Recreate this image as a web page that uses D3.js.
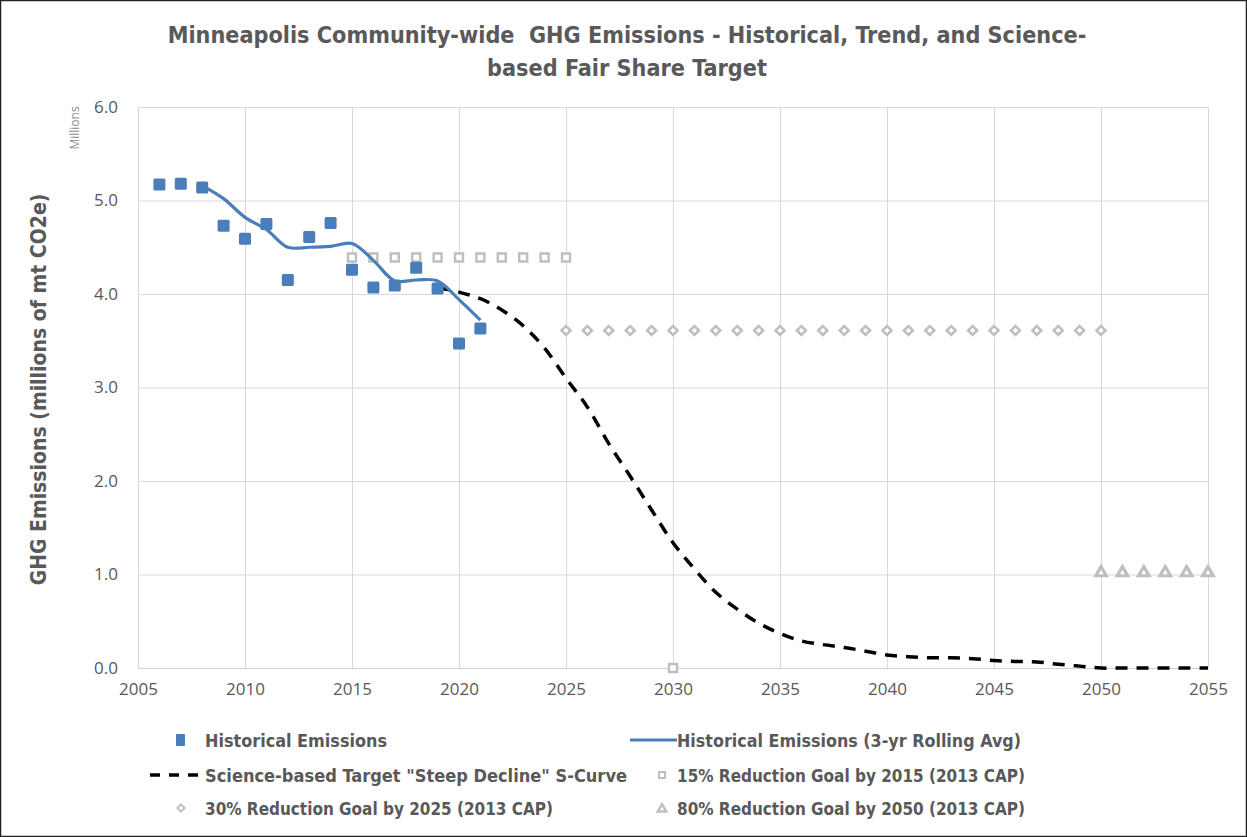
<!DOCTYPE html>
<html><head><meta charset="utf-8">
<script src="https://cdn.jsdelivr.net/npm/d3@7"></script>
<style>
html,body{margin:0;padding:0;background:#fff;}
text{font-family:"Liberation Sans Narrow","Arial Narrow","DejaVu Sans Condensed",sans-serif;}
</style></head>
<body>
<svg id="chart" width="1247" height="837"></svg>
<script>
// ---- data ----
const histYears = [2006,2007,2008,2009,2010,2011,2012,2013,2014,2015,2016,2017,2018,2019,2020,2021];
const histValues = [5.17,5.18,5.14,4.73,4.59,4.75,4.15,4.61,4.76,4.26,4.07,4.09,4.28,4.06,3.47,3.63];
const avgYears = [2008,2009,2010,2011,2012,2013,2014,2015,2016,2017,2018,2019,2020,2021];
const avgValues = [5.16,5.02,4.82,4.69,4.50,4.50,4.51,4.54,4.36,4.14,4.15,4.14,3.94,3.72];
const sYears = [2019,2020,2021,2022,2023,2024,2025,2026,2027,2028,2029,2030,2031,2032,2033,2034,2035,2036,2037,2038,2039,2040,2041,2042,2043,2044,2045,2046,2047,2048,2049,2050,2051,2052,2053,2054,2055];
const sValues = [4.07,4.02,3.95,3.83,3.66,3.42,3.10,2.79,2.40,2.05,1.69,1.34,1.06,0.81,0.63,0.48,0.37,0.29,0.25,0.22,0.18,0.14,0.12,0.11,0.11,0.10,0.08,0.07,0.065,0.04,0.02,0.0,0.0,0.0,0.0,0.0,0.0];
const goal15Years = [2015,2016,2017,2018,2019,2020,2021,2022,2023,2024,2025,2030];
const goal15Values = [4.39,4.39,4.39,4.39,4.39,4.39,4.39,4.39,4.39,4.39,4.39,0.0];
const goal30Years = [2025,2026,2027,2028,2029,2030,2031,2032,2033,2034,2035,2036,2037,2038,2039,2040,2041,2042,2043,2044,2045,2046,2047,2048,2049,2050];
const goal30Values = [3.61,3.61,3.61,3.61,3.61,3.61,3.61,3.61,3.61,3.61,3.61,3.61,3.61,3.61,3.61,3.61,3.61,3.61,3.61,3.61,3.61,3.61,3.61,3.61,3.61,3.61];
const goal80Years = [2050,2051,2052,2053,2054,2055];
const goal80Values = [1.03,1.03,1.03,1.03,1.03,1.03];
const xTicks = [2005,2010,2015,2020,2025,2030,2035,2040,2045,2050,2055];
const yTicks = [0,1,2,3,4,5,6];
const titleLines = ["Minneapolis Community-wide  GHG Emissions - Historical, Trend, and Science-","based Fair Share Target"];
const yTitle = "GHG Emissions (millions of mt CO2e)";
const legendLabels = ["Historical Emissions","Historical Emissions (3-yr Rolling Avg)","Science-based Target \"Steep Decline\" S-Curve","15% Reduction Goal by 2015 (2013 CAP)","30% Reduction Goal by 2025 (2013 CAP)","80% Reduction Goal by 2050 (2013 CAP)"];

// ---- layout ----
const W = 1247, H = 837;
const m = {left:138, right:1208, top:107, bottom:668};
const svg = d3.select("#chart");
const textColor = "#595959";
const blue = "#4a7ebb";
const gray = "#bfbfbf";

svg.append("rect").attr("x",0.5).attr("y",0.5).attr("width",W-1).attr("height",H-1)
  .attr("fill","#fff").attr("stroke","#222").attr("stroke-width",1.5);

const x = d3.scaleLinear().domain([2005,2055]).range([m.left,m.right]);
const y = d3.scaleLinear().domain([0,6]).range([m.bottom,m.top]);

// gridlines
const g = svg.append("g");
g.selectAll(".hg").data(yTicks).join("line")
  .attr("x1",m.left).attr("x2",m.right).attr("y1",d=>y(d)+0.5).attr("y2",d=>y(d)+0.5)
  .attr("stroke","#d9d9d9").attr("stroke-width",1);
g.selectAll(".vg").data(xTicks).join("line")
  .attr("x1",d=>x(d)+0.5).attr("x2",d=>x(d)+0.5).attr("y1",m.top).attr("y2",m.bottom)
  .attr("stroke","#d9d9d9").attr("stroke-width",1);

// axes labels
const xAxis = d3.axisBottom(x).tickValues(xTicks).tickFormat(d3.format("d")).tickSize(0).tickPadding(15);
const xg = svg.append("g").attr("transform",`translate(0,${m.bottom})`).call(xAxis);
xg.select(".domain").attr("stroke","#d0d0d0");
xg.selectAll("text").attr("fill",textColor).style("font-family","'Open Sans',sans-serif").attr("font-size",17);

const yAxis = d3.axisLeft(y).tickValues(yTicks).tickFormat(d3.format(".1f")).tickSize(0).tickPadding(20);
const yg = svg.append("g").attr("transform",`translate(${m.left},0)`).call(yAxis);
yg.select(".domain").remove();
yg.selectAll("text").attr("fill",textColor).style("font-family","'Open Sans',sans-serif").attr("font-size",17);

// Millions
svg.append("text").attr("transform","translate(79,128) rotate(-90)")
  .attr("text-anchor","middle").attr("fill","#8c8c8c").attr("font-size",12)
  .style("font-family","'Open Sans',sans-serif").text("Millions");

// y title
svg.append("text").attr("transform",`translate(46,${(m.top+m.bottom)/2+2}) rotate(-90)`)
  .attr("text-anchor","middle").attr("fill",textColor).attr("font-size",21).attr("font-weight","bold")
  .text(yTitle);

// title
svg.selectAll(".title").data(titleLines).join("text")
  .attr("x",627).attr("y",(d,i)=>43+i*33).attr("text-anchor","middle").style("white-space","pre")
  .attr("fill",textColor).attr("font-size",23.2).attr("font-weight","bold").text(d=>d);

// series
const avgData = avgYears.map((v,i)=>[v,avgValues[i]]);
const sData = sYears.map((v,i)=>[v,sValues[i]]);

// goal markers
const sq = d3.symbol().type(d3.symbolSquare).size(64);
const tri = d3.symbol().type(d3.symbolTriangle).size(48);

svg.append("g").selectAll("path").data(goal15Years.map((v,i)=>[v,goal15Values[i]])).join("path")
  .attr("transform",d=>`translate(${x(d[0])},${y(d[1])})`).attr("d",sq)
  .attr("fill","#fff").attr("stroke",gray).attr("stroke-width",2.4);
svg.append("g").selectAll("path").data(goal30Years.map((v,i)=>[v,goal30Values[i]])).join("path")
  .attr("transform",d=>`translate(${x(d[0])},${y(d[1])}) rotate(45)`).attr("d",d3.symbol().type(d3.symbolSquare).size(40))
  .attr("fill","#fff").attr("stroke",gray).attr("stroke-width",2.6);
svg.append("g").selectAll("path").data(goal80Years.map((v,i)=>[v,goal80Values[i]])).join("path")
  .attr("transform",d=>`translate(${x(d[0])},${y(d[1])+1})`).attr("d",tri)
  .attr("fill","#fff").attr("stroke",gray).attr("stroke-width",3.2);

svg.append("path").datum(sData).attr("d",d3.line().x(d=>x(d[0])).y(d=>y(d[1])).curve(d3.curveCatmullRom.alpha(0.5)))
  .attr("fill","none").attr("stroke","#000").attr("stroke-width",3.5)
  .attr("stroke-dasharray","12,9");

svg.append("g").selectAll("rect").data(histYears.map((v,i)=>[v,histValues[i]])).join("rect")
  .attr("x",d=>x(d[0])-6).attr("y",d=>y(d[1])-6).attr("width",12).attr("height",12)
  .attr("rx",1.5).attr("fill",blue);

svg.append("path").datum(avgData).attr("d",d3.line().x(d=>x(d[0])).y(d=>y(d[1])).curve(d3.curveCatmullRom.alpha(0.5)))
  .attr("fill","none").attr("stroke",blue).attr("stroke-width",3.2);

// legend
const legend = svg.append("g");
const rows = [747,782,815];
const cols = [205,677];
const widths = [182,344,422,348,348,348];
const lt = (i,xx,yy)=>legend.append("text").attr("x",xx).attr("y",yy)
  .attr("fill",textColor).attr("font-size",17.9).attr("font-weight","bold")
  .attr("textLength",widths[i]).attr("lengthAdjust","spacingAndGlyphs").text(legendLabels[i]);
// row1
legend.append("rect").attr("x",176).attr("y",rows[0]-13).attr("width",9).attr("height",12).attr("rx",1).attr("fill",blue);
lt(0,cols[0],rows[0]);
legend.append("line").attr("x1",630).attr("x2",677).attr("y1",rows[0]-7).attr("y2",rows[0]-7).attr("stroke",blue).attr("stroke-width",3.2);
lt(1,cols[1],rows[0]);
// row2
legend.append("line").attr("x1",150).attr("x2",205).attr("y1",rows[1]-7).attr("y2",rows[1]-7)
  .attr("stroke","#000").attr("stroke-width",3.5).attr("stroke-dasharray","10,9");
lt(2,cols[0],rows[1]);
legend.append("path").attr("transform",`translate(662,${rows[1]-7})`).attr("d",d3.symbol().type(d3.symbolSquare).size(36))
  .attr("fill","#fff").attr("stroke",gray).attr("stroke-width",2);
lt(3,cols[1],rows[1]);
// row3
legend.append("path").attr("transform",`translate(181,${rows[2]-7}) rotate(45)`).attr("d",d3.symbol().type(d3.symbolSquare).size(26))
  .attr("fill","#fff").attr("stroke",gray).attr("stroke-width",2);
lt(4,cols[0],rows[2]);
legend.append("path").attr("transform",`translate(662,${rows[2]-6})`).attr("d",d3.symbol().type(d3.symbolTriangle).size(30))
  .attr("fill","#fff").attr("stroke",gray).attr("stroke-width",2.5);
lt(5,cols[1],rows[2]);
</script>
</body></html>
